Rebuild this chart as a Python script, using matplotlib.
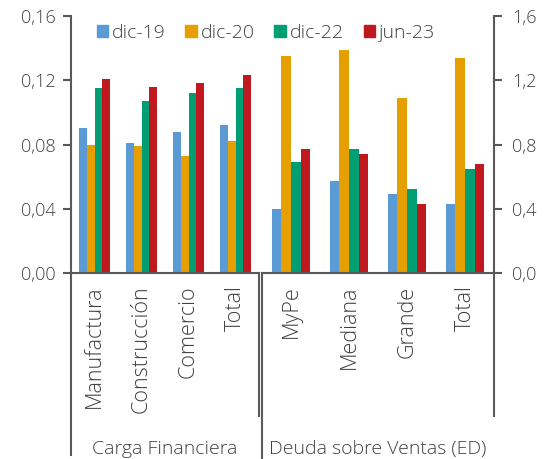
import numpy as np
import matplotlib
matplotlib.use("Agg")
import matplotlib.pyplot as plt
from matplotlib.patches import Patch

plt.rcParams['font.family'] = ['Open Sans', 'DejaVu Sans']
plt.rcParams['font.weight'] = 'light'

## data
series = ["dic-19", "dic-20", "dic-22", "jun-23"]
colors = ["#5B9BD5", "#E69F00", "#009E73", "#C0181F"]

carga_cats = ["Manufactura", "Construcción", "Comercio", "Total"]
carga_vals = [
    [0.090, 0.081, 0.088, 0.092],   # dic-19
    [0.080, 0.079, 0.073, 0.082],   # dic-20
    [0.115, 0.107, 0.112, 0.115],   # dic-22
    [0.121, 0.116, 0.118, 0.123],   # jun-23
]

deuda_cats = ["MyPe", "Mediana", "Grande", "Total"]
deuda_vals = [
    [0.40, 0.57, 0.49, 0.43],
    [1.35, 1.39, 1.09, 1.34],
    [0.69, 0.77, 0.52, 0.65],
    [0.77, 0.74, 0.43, 0.68],
]

left_ticks = [0.00, 0.04, 0.08, 0.12, 0.16]
right_ticks = [0.0, 0.4, 0.8, 1.2, 1.6]

txt = "#404040"
line_c = "#595959"
fs = 13

fig = plt.figure(figsize=(5.44, 4.59), dpi=100)
W, H = 544, 459

def make_ax(x0, x1):
    return fig.add_axes([x0 / W, (H - 273) / H, (x1 - x0) / W, 257 / H])

ax1 = make_ax(71, 259)
ax2 = make_ax(262, 494)

bw = 0.165
offs = (np.arange(4) - 1.5) * bw

def draw_group(ax, cats, vals):
    x = np.arange(len(cats))
    for i in range(len(vals)):
        ax.bar(x + offs[i], vals[i], width=bw, color=colors[i], zorder=2)
    ax.set_xlim(-0.5, len(cats) - 0.5)
    ax.set_xticks(x)
    ax.set_xticklabels(cats, rotation=90, fontsize=15.5, color=txt)
    ax.tick_params(axis='x', length=0, pad=9)
    for s in ["top", "right", "left"]:
        ax.spines[s].set_visible(False)
    ax.spines["bottom"].set_color(line_c)
    ax.spines["bottom"].set_linewidth(1.5)

draw_group(ax1, carga_cats, carga_vals)
draw_group(ax2, deuda_cats, deuda_vals)

# left value axis
ax1.set_ylim(0, 0.16)
ax1.set_yticks(left_ticks)
ax1.set_yticklabels([f"{v:.2f}".replace(".", ",") for v in left_ticks])
ax1.spines["left"].set_visible(True)
ax1.spines["left"].set_color(line_c)
ax1.spines["left"].set_linewidth(1.5)
ax1.tick_params(axis='y', direction='out', length=6, width=1.5, color=line_c,
                labelsize=fs, labelcolor=txt, pad=5)

# right value axis
ax2.set_ylim(0, 1.6)
ax2.set_yticks(right_ticks)
ax2.set_yticklabels([f"{v:.1f}".replace(".", ",") for v in right_ticks])
ax2.yaxis.tick_right()
ax2.spines["right"].set_visible(True)
ax2.spines["right"].set_color(line_c)
ax2.spines["right"].set_linewidth(1.5)
ax2.tick_params(axis='y', direction='out', length=6, width=1.5, color=line_c,
                labelsize=fs, labelcolor=txt, pad=7)

# multi-level category separators
def vline(ax, x, y_end):
    ax.plot([x, x], [0, y_end], transform=ax.transAxes, color=line_c,
            lw=1.5, clip_on=False)

vline(ax1, 0, -0.71)
vline(ax1, 1, -0.555)
vline(ax2, 0, -0.72)
vline(ax2, 1, -0.555)

ax1.text(0.5, -0.685, "Carga Financiera", transform=ax1.transAxes,
         ha='center', va='center', fontsize=14, color=txt)
ax2.text(0.5, -0.685, "Deuda sobre Ventas (ED)", transform=ax2.transAxes,
         ha='center', va='center', fontsize=14, color=txt)

handles = [Patch(color=c, label=s) for c, s in zip(colors, series)]
fig.legend(handles=handles, loc='center', bbox_to_anchor=(266 / W, 1 - 33 / H),
           ncol=4, frameon=False, fontsize=14, handlelength=0.6, handleheight=0.6,
           handletextpad=0.2, columnspacing=1.0, labelcolor=txt)

fig.savefig("out.png", dpi=100)
